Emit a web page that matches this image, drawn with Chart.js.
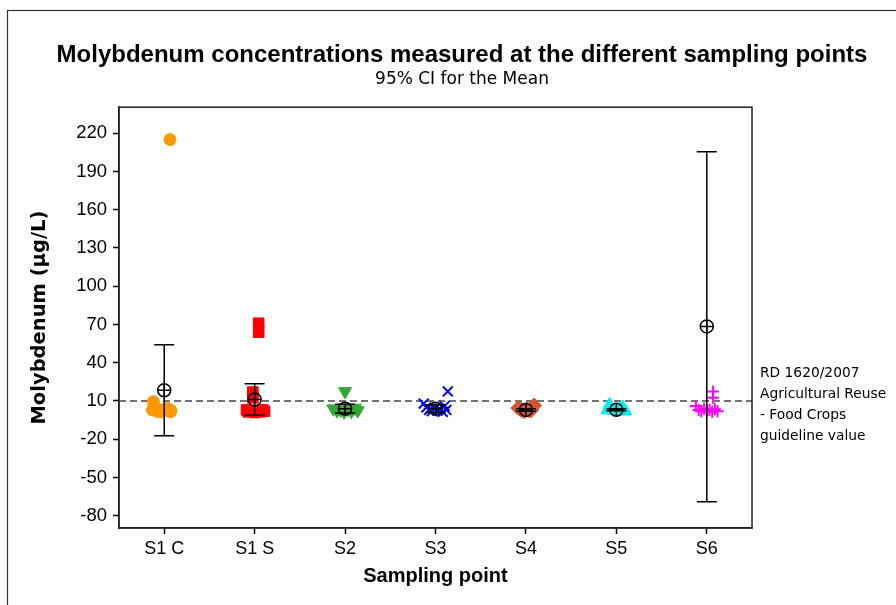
<!DOCTYPE html>
<html>
<head>
<meta charset="utf-8">
<script src="https://cdn.jsdelivr.net/npm/chart.js@4.4.0/dist/chart.umd.min.js"></script>
<style>
  html, body { margin: 0; padding: 0; background: #fff; }
  #wrap { width: 896px; height: 605px; overflow: hidden; }
</style>
</head>
<body>
<div id="wrap"><canvas id="moChart" width="896" height="605"></canvas></div>
<script>
const sites = ['S1 C', 'S1 S', 'S2', 'S3', 'S4', 'S5', 'S6'];
const yTicks = [-80, -50, -20, 10, 40, 70, 100, 130, 160, 190, 220];
const guideline = 10;
const guideLabel = ['RD 1620/2007', 'Agricultural Reuse', '- Food Crops', 'guideline value'];

// individual results (µg/L) per sampling point, with the sideways jitter seen in the plot
const s1cValues = [215, 9.5, 5, 3, 2, 1.5, 3, 2.5, 3.5, 1.5, 2.5, 4];
const s1cJitter = [0.064, -0.12, -0.1, -0.13, -0.08, -0.04, -0.02, 0.02, 0.05, 0.07, 0.075, 0.03];
const s1sValues = [71, 64, 17, 12.5, 3, 1.5, 2, 1, 2.5, 1.5, 3, 2];
const s1sJitter = [0.045, 0.045, -0.02, -0.02, -0.09, -0.07, -0.04, 0, 0.03, 0.06, 0.09, 0.11];
const s2Values = [17.5, 4, 2.5, 3, 1.5, 3.5, 2, 4.5, 2.5];
const s2Jitter = [0, -0.13, -0.09, -0.05, -0.01, 0.03, 0.07, 0.11, 0.14];
const s3Values = [17.5, 8, 5, 3, 2, 4, 2.5, 3.5, 1.5, 6, 3];
const s3Jitter = [0.136, -0.13, -0.1, -0.07, -0.04, -0.01, 0.02, 0.05, 0.08, 0.1, 0.12];
const s4Values = [4.5, 6.5, 3, 2, 3.5, 2.5, 3];
const s4Jitter = [-0.085, 0.09, -0.05, -0.02, 0.01, 0.04, 0.06];
const s5Values = [7, 5, 3, 2.5, 2, 3.5, 2];
const s5Jitter = [-0.075, 0.07, -0.1, -0.03, 0.02, 0.05, 0.1];
const s6Values = [17.5, 12.5, 6, 3, 2, 4, 2.5, 3, 1.5, 3.5, 2];
const s6Jitter = [0.07, 0.07, -0.12, -0.09, -0.06, -0.03, 0, 0.03, 0.06, 0.09, 0.12];

// 95% CI for the mean
const meanValues = [18.4, 11.2, 4, 4, 3, 3.1, 68.5];
const ciLow = [-17.3, -1.1, 0.5, 1, 2, 2.3, -69];
const ciHigh = [54.1, 23.5, 7.5, 7, 4, 3.9, 205.5];

const points = (idx, values, jitter) => values.map((v, k) => ({ x: idx + jitter[k], y: v }));

const obs = (idx, values, jitter, color, style, radius, extra) => Object.assign({
  label: sites[idx],
  data: points(idx, values, jitter),
  pointStyle: style,
  pointRadius: radius,
  backgroundColor: color,
  borderColor: color,
  borderWidth: 1
}, extra || {});

const guidePlugin = {
  id: 'guide',
  beforeDatasetsDraw(chart) {
    const { ctx, chartArea: a, scales: { y } } = chart;
    const py = y.getPixelForValue(guideline);
    ctx.save();
    ctx.strokeStyle = '#444';
    ctx.lineWidth = 1.3;
    ctx.setLineDash([7, 4]);
    ctx.beginPath();
    ctx.moveTo(a.left, py);
    ctx.lineTo(a.right, py);
    ctx.stroke();
    ctx.restore();
  },
  afterDatasetsDraw(chart) {
    // error bars
    const { ctx, scales: { x, y } } = chart;
    ctx.save();
    ctx.strokeStyle = '#000';
    ctx.lineWidth = 1.5;
    meanValues.forEach((m, i) => {
      const px = x.getPixelForValue(i);
      const lo = y.getPixelForValue(ciLow[i]);
      const hi = y.getPixelForValue(ciHigh[i]);
      ctx.beginPath();
      ctx.moveTo(px, lo); ctx.lineTo(px, hi);
      ctx.moveTo(px - 10, lo); ctx.lineTo(px + 10, lo);
      ctx.moveTo(px - 10, hi); ctx.lineTo(px + 10, hi);
      ctx.stroke();
    });
    ctx.restore();
  },
  afterDraw(chart) {
    const { ctx, chartArea: a, scales: { y } } = chart;
    ctx.save();
    // outer figure frame
    ctx.strokeStyle = '#333';
    ctx.lineWidth = 1.2;
    ctx.strokeRect(7.5, 10.5, 1000, 1000);
    // plot frame
    ctx.strokeStyle = '#222';
    ctx.lineWidth = 1.5;
    ctx.strokeRect(a.left, a.top, a.right - a.left, a.bottom - a.top);
    // guideline label
    const py = y.getPixelForValue(guideline);
    ctx.fillStyle = '#000';
    ctx.font = '13.8px "DejaVu Sans", Verdana, sans-serif';
    ctx.textBaseline = 'middle';
    ctx.textAlign = 'left';
    guideLabel.forEach((t, k) => ctx.fillText(t, a.right + 8, py - 28 + k * 21));
    ctx.restore();
  }
};

new Chart(document.getElementById('moChart'), {
  type: 'scatter',
  data: {
    datasets: [
      { label: 'Mean', data: meanValues.map((m, i) => ({ x: i, y: m })), pointStyle: 'circle', pointRadius: 6.5,
        backgroundColor: 'rgba(0,0,0,0)', borderColor: '#000', borderWidth: 1.5 },
      { label: 'Mean+', data: meanValues.map((m, i) => ({ x: i, y: m })), pointStyle: 'cross', pointRadius: 6.5,
        borderColor: '#000', borderWidth: 1.5 },
      obs(0, s1cValues, s1cJitter, '#ff9900', 'circle', 6),
      obs(1, s1sValues, s1sJitter, '#ff0000', 'rect', 7.5),
      obs(2, s2Values, s2Jitter, '#33a833', 'triangle', 7.5, { rotation: 180 }),
      obs(3, s3Values, s3Jitter, '#0000ff', 'crossRot', 7, { borderWidth: 2 }),
      obs(4, s4Values, s4Jitter, '#d0582e', 'rectRot', 7.5),
      obs(5, s5Values, s5Jitter, '#00f0f0', 'triangle', 7.5),
      obs(6, s6Values, s6Jitter, '#ff00ff', 'cross', 6, { borderWidth: 2 })
    ]
  },
  options: {
    responsive: false,
    animation: false,
    layout: { padding: { left: 28, right: 0, top: 0, bottom: 0 } },
    plugins: {
      legend: { display: false },
      tooltip: { enabled: false },
      title: {
        display: true,
        text: 'Molybdenum concentrations measured at the different sampling points',
        color: '#000',
        font: { family: '"Liberation Sans", Arial, sans-serif', size: 24, weight: 'bold' },
        padding: { top: 40.6, bottom: 0 }
      },
      subtitle: {
        display: true,
        text: '95% CI for the Mean',
        color: '#000',
        font: { family: '"DejaVu Sans", Verdana, sans-serif', size: 17 },
        padding: { top: 0.4, bottom: 17 }
      }
    },
    scales: {
      x: {
        type: 'linear',
        min: -0.5,
        max: 6.5,
        afterBuildTicks: (s) => { s.ticks = sites.map((_, i) => ({ value: i })); },
        afterFit: (s) => { s.height = 77; },
        grid: { drawOnChartArea: false, color: '#000', tickLength: 6, tickWidth: 1.5 },
        border: { color: '#222', width: 1.5 },
        ticks: {
          color: '#000',
          padding: 4,
          font: { family: '"Liberation Sans", Arial, sans-serif', size: 18 },
          callback: (v) => sites[v]
        },
        title: {
          display: true,
          text: 'Sampling point',
          color: '#000',
          font: { family: '"Liberation Sans", Arial, sans-serif', size: 20, weight: 'bold' },
          padding: { top: 0, bottom: 16.5 }
        }
      },
      y: {
        type: 'linear',
        min: -89.6,
        max: 240.4,
        afterBuildTicks: (s) => { s.ticks = yTicks.map(v => ({ value: v })); },
        afterFit: (s) => { s.width = 91; },
        grid: { drawOnChartArea: false, color: '#000', tickLength: 6, tickWidth: 1.5 },
        border: { color: '#222', width: 1.5 },
        ticks: {
          color: '#000',
          padding: 6,
          font: { family: '"Liberation Sans", Arial, sans-serif', size: 18.5 }
        },
        title: {
          display: true,
          text: 'Molybdenum (µg/L)',
          color: '#000',
          font: { family: '"DejaVu Sans", Verdana, sans-serif', size: 19.5, weight: 'bold' },
          padding: { top: 0.7, bottom: 0 }
        }
      },
      yRight: {
        type: 'linear',
        position: 'right',
        min: 0,
        max: 1,
        afterFit: (s) => { s.width = 144; },
        grid: { display: false },
        border: { display: false },
        ticks: { display: false }
      }
    }
  },
  plugins: [guidePlugin]
});
</script>
</body>
</html>
